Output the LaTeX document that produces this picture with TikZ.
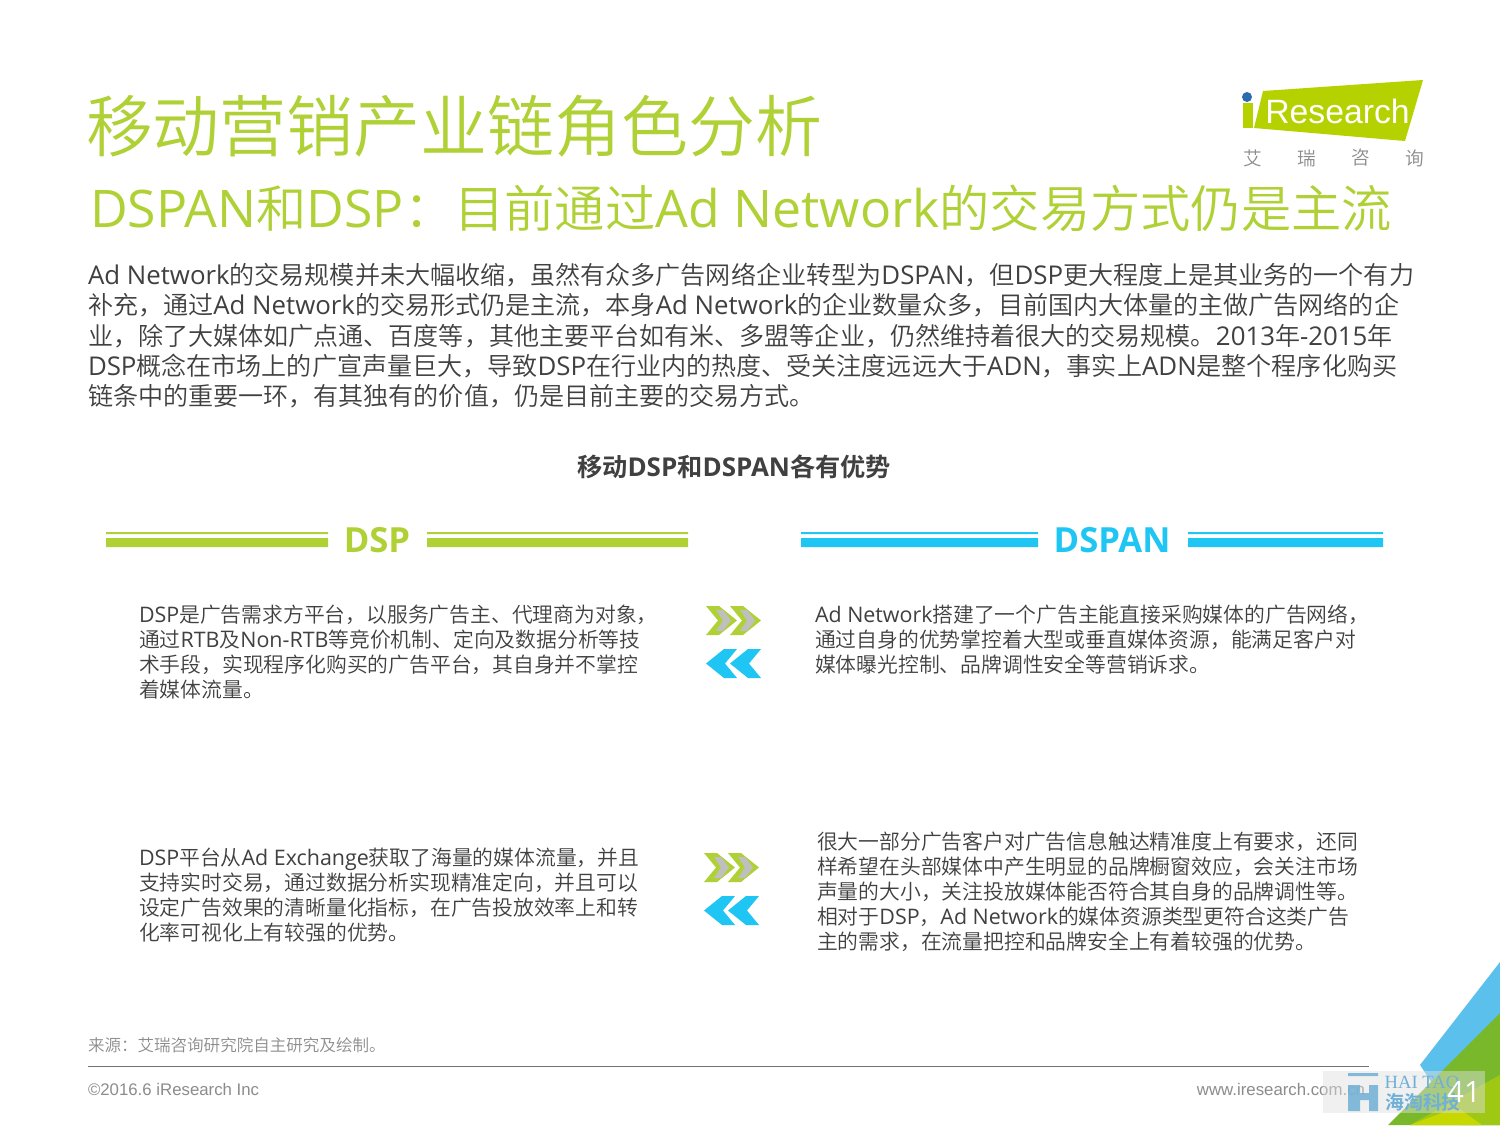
\documentclass[tikz,border=0pt]{standalone}
\usepackage{fontspec}
\setmainfont{Open Sans}[Scale=1.03]
\newfontfamily\cjkf{Noto Sans CJK SC DemiLight}[BoldFont={Noto Sans CJK SC Bold}]
\newfontfamily\arialf{Liberation Sans}
\newfontfamily\timesf{Liberation Serif}
\newXeTeXintercharclass\cjkclass
\newcount\cjkcnt
\def\setcjkrange#1#2{\cjkcnt=#1\relax\loop\XeTeXcharclass\cjkcnt=\cjkclass\ifnum\cjkcnt<#2\advance\cjkcnt by 1\repeat}
\setcjkrange{"3000}{"303F}
\setcjkrange{"4E00}{"9FFF}
\setcjkrange{"FF00}{"FFEF}
\XeTeXinterchartoks 0 \cjkclass={\cjkf}
\XeTeXinterchartoks 255 \cjkclass={\cjkf}
\XeTeXinterchartoks \cjkclass 0={\rmfamily}
\XeTeXinterchartoks \cjkclass 255={\rmfamily}
\XeTeXinterchartokenstate=1
\definecolor{dspg}{HTML}{AFD135}
\definecolor{dspb}{HTML}{1FC6F3}
\definecolor{bodyc}{HTML}{404040}
\definecolor{footc}{HTML}{8C8C8C}
\definecolor{wmb}{HTML}{6FB0D6}
\definecolor{cblue}{HTML}{5BC0EB}
\definecolor{cgreen}{HTML}{78B82A}
\definecolor{clime}{HTML}{9EC813}
\definecolor{cyell}{HTML}{C6D800}
\definecolor{logog}{HTML}{B5D100}
\definecolor{logob}{HTML}{2B6CB0}
\tikzset{
 txt/.style={anchor=north west,inner sep=0pt,outer sep=0pt,align=left},
 maint/.style={txt,text=dspg,font=\fontsize{50.2}{56}\selectfont},
 subt/.style={txt,text=dspg,font=\fontsize{37.7}{42}\selectfont},
 para/.style={txt,text=bodyc,font=\fontsize{18.8}{22.75}\selectfont},
 colt/.style={txt,text=bodyc,font=\fontsize{15.6}{18.75}\selectfont},
 hdr/.style={anchor=center,inner sep=0pt,font=\fontsize{25.2}{30}\bfseries\selectfont},
 logoc/.style={anchor=center,inner sep=0pt,text=footc,font=\cjkf\fontsize{14}{16}\selectfont},
 foot/.style={txt,text=footc,font=\arialf\fontsize{12.6}{14}\selectfont}
}
\newcommand{\chevR}[3]{\fill[#3] (#1,#2) -- ++(13,0) -- ++(18,14.5) -- ++(-18,14.5) -- ++(-13,0) -- ++(12,-14.5) -- cycle;}
\newcommand{\chevG}[2]{\fill[black!25] (#1,#2) -- ++(7,0) -- ++(8,10.5) -- ++(-8,10.5) -- ++(-7,0) -- ++(7,-10.5) -- cycle;}
\newcommand{\chevL}[3]{\fill[#3] (#1,#2) -- ++(-13,0) -- ++(-18,14.5) -- ++(18,14.5) -- ++(13,0) -- ++(-12,-14.5) -- cycle;}
\begin{document}
\begin{tikzpicture}[x=.75pt,y=-.75pt]
\path[use as bounding box,fill=white] (0,0) rectangle (1500,1125);
% corner
\fill[cblue] (1500,962) -- (1420,1065) -- (1460,1125) -- (1500,1125) -- cycle;
\fill[cgreen] (1500,1013) -- (1388,1125) -- (1500,1125) -- cycle;
\fill[clime] (1500,1075) -- (1410,1125) -- (1500,1125) -- cycle;
\fill[cyell] (1457,1107) -- (1410,1125) -- (1482,1125) -- cycle;
% logo
\fill[logog] (1263,91) -- (1423,80) -- (1405,141) -- (1254,128) -- cycle;
\fill[logog] (1243,103) -- (1253,103) -- (1253,128) -- (1243,128) -- cycle;
\fill[logob] (1247,97) circle (5);
\node[anchor=base west,inner sep=0pt,text=white,font=\arialf\fontsize{25.3}{30}\selectfont] (logotext) at (1265,123) {Research};
\node[logoc] (l1) at (1253,158) {艾};
\node[logoc] (l2) at (1307,158) {瑞};
\node[logoc] (l3) at (1361,158) {咨};
\node[logoc] (l4) at (1415,158) {询};
% titles
\node[maint] (title) at (86,95) {\cjkf 移动营销产业链角色分析};
\node[subt] (subtitle) at (90,185) {DSPAN和DSP：目前通过Ad Network的交易方式仍是主流};
\node[para] (body) at (88,263) {Ad Network的交易规模并未大幅收缩，虽然有众多广告网络企业转型为DSPAN，但DSP更大程度上是其业务的一个有力\\
\cjkf 补充，通过Ad Network的交易形式仍是主流，本身Ad Network的企业数量众多，目前国内大体量的主做广告网络的企\\
\cjkf 业，除了大媒体如广点通、百度等，其他主要平台如有米、多盟等企业，仍然维持着很大的交易规模。2013年-2015年\\
DSP概念在市场上的广宣声量巨大，导致DSP在行业内的热度、受关注度远远大于ADN，事实上ADN是整个程序化购买\\
\cjkf 链条中的重要一环，有其独有的价值，仍是目前主要的交易方式。};
\node[anchor=center,inner sep=0pt,text=bodyc,font=\fontsize{18.9}{22}\bfseries\selectfont] (midhead) at (734,467) {\cjkf 移动DSP和DSPAN各有优势};
% headers
\fill[dspg] (106,532) rectangle (328,534) (106,538) rectangle (328,547);
\fill[dspg] (427,532) rectangle (688,534) (427,538) rectangle (688,547);
\node[hdr,text=dspg] (dsp) at (377,540) {DSP};
\fill[dspb] (801,532) rectangle (1038,534) (801,538) rectangle (1038,547);
\fill[dspb] (1188,532) rectangle (1383,534) (1188,538) rectangle (1383,547);
\node[hdr,text=dspb] (dspan) at (1112,540) {DSPAN};
% columns
\node[colt] (a1) at (139,605) {DSP是广告需求方平台，以服务广告主、代理商为对象，\\
\cjkf 通过RTB及Non-RTB等竞价机制、定向及数据分析等技\\
\cjkf 术手段，实现程序化购买的广告平台，其自身并不掌控\\
\cjkf 着媒体流量。};
\node[colt] (a2) at (139,848) {DSP平台从Ad Exchange获取了海量的媒体流量，并且\\
\cjkf 支持实时交易，通过数据分析实现精准定向，并且可以\\
\cjkf 设定广告效果的清晰量化指标，在广告投放效率上和转\\
\cjkf 化率可视化上有较强的优势。};
\node[colt] (b1) at (815,605) {Ad Network搭建了一个广告主能直接采购媒体的广告网络，\\
\cjkf 通过自身的优势掌控着大型或垂直媒体资源，能满足客户对\\
\cjkf 媒体曝光控制、品牌调性安全等营销诉求。};
\node[colt] (b2) at (817,832) {\cjkf 很大一部分广告客户对广告信息触达精准度上有要求，还同\\
\cjkf 样希望在头部媒体中产生明显的品牌橱窗效应，会关注市场\\
\cjkf 声量的大小，关注投放媒体能否符合其自身的品牌调性等。\\
\cjkf 相对于DSP，Ad Network的媒体资源类型更符合这类广告\\
\cjkf 主的需求，在流量把控和品牌安全上有着较强的优势。};
% chevrons
\chevR{706}{606}{dspg}\chevG{716}{610}\chevR{730}{606}{dspg}\chevG{740}{610}
\chevL{737}{649}{dspb}\chevL{761}{649}{dspb}
\chevR{704}{853}{dspg}\chevG{714}{857}\chevR{728}{853}{dspg}\chevG{738}{857}
\chevL{735}{896}{dspb}\chevL{759}{896}{dspb}
% footer
\node[txt,text=footc,font=\fontsize{12.4}{14}\selectfont] (source) at (88,1037) {\cjkf 来源：艾瑞咨询研究院自主研究及绘制。};
\coordinate (ruleL) at (88,1066);
\coordinate (ruleR) at (1369,1066);
\draw[black!55,line width=.75pt] (ruleL) -- (ruleR);
\node[foot] (copy) at (88,1083) {©2016.6 iResearch Inc};
\node[foot,anchor=north east] (url) at (1365,1083) {www.iresearch.com.cn};
% watermark
\fill[white,opacity=.45] (1323,1071) rectangle (1485,1113);
\fill[black,opacity=.06] (1323,1071) rectangle (1485,1113);
\fill[wmb,opacity=.85] (1348,1073) rectangle (1378,1076) (1348,1085) rectangle (1360,1111) (1369,1085) rectangle (1378,1111) (1360,1093) rectangle (1369,1100);
\node[anchor=center,inner sep=0pt,text=wmb,font=\timesf\fontsize{14}{16}\selectfont] (wm1) at (1422,1082) {HAI TAO};
\node[anchor=center,inner sep=0pt,text=wmb,font=\fontsize{14.2}{16}\bfseries\selectfont] (wm2) at (1423,1102) {\cjkf 海淘科技};
\node[anchor=center,inner sep=0pt,text=white,font=\fontsize{21.4}{24}\selectfont] (pnum) at (1464,1092) {41};
\end{tikzpicture}
\end{document}
